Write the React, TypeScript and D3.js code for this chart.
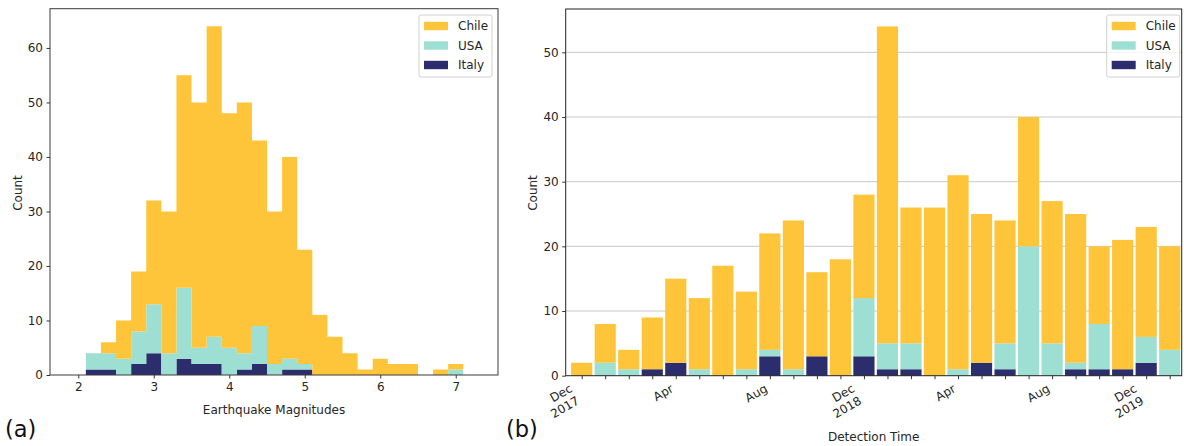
import React, { useEffect, useRef } from 'react';
import * as d3 from 'd3';

// ---- data: (a) magnitude histogram, 0.2 wide bins
const binEdges = [2.1, 2.3, 2.5, 2.7, 2.9, 3.1, 3.3, 3.5, 3.7, 3.9, 4.1, 4.3, 4.5, 4.7, 4.9, 5.1, 5.3, 5.5, 5.7, 5.9, 6.1, 6.3, 6.5, 6.7, 6.9, 7.1];
const histItaly = [1, 1, 0, 2, 4, 0, 3, 2, 2, 0, 1, 2, 0, 1, 1, 0, 0, 0, 0, 0, 0, 0, 0, 0, 0];
const histUSA = [3, 3, 3, 6, 9, 4, 13, 3, 5, 5, 3, 7, 2, 2, 1, 0, 0, 0, 0, 0, 0, 0, 0, 0, 1];
const histChile = [0, 2, 7, 11, 19, 26, 39, 45, 57, 43, 46, 34, 28, 37, 21, 11, 7, 4, 1, 3, 2, 2, 0, 1, 1];
const histXTicks = [2, 3, 4, 5, 6, 7];
const histYTicks = [0, 10, 20, 30, 40, 50, 60];

// ---- data: (b) monthly detections, Dec 2017 .. Jan 2020
const months = [
  'Dec 2017', 'Jan 2018', 'Feb 2018', 'Mar 2018', 'Apr 2018', 'May 2018', 'Jun 2018', 'Jul 2018', 'Aug 2018',
  'Sep 2018', 'Oct 2018', 'Nov 2018', 'Dec 2018', 'Jan 2019', 'Feb 2019', 'Mar 2019', 'Apr 2019', 'May 2019',
  'Jun 2019', 'Jul 2019', 'Aug 2019', 'Sep 2019', 'Oct 2019', 'Nov 2019', 'Dec 2019', 'Jan 2020',
];
const monthItaly = [0, 0, 0, 1, 2, 0, 0, 0, 3, 0, 3, 0, 3, 1, 1, 0, 0, 2, 1, 0, 0, 1, 1, 1, 2, 0];
const monthUSA = [0, 2, 1, 0, 0, 1, 0, 1, 1, 1, 0, 0, 9, 4, 4, 0, 1, 0, 4, 20, 5, 1, 7, 0, 4, 4];
const monthChile = [2, 6, 3, 8, 13, 11, 17, 12, 18, 23, 13, 18, 16, 49, 21, 26, 30, 23, 19, 20, 22, 23, 12, 20, 17, 16];
const monthTickLabels: [number, string[]][] = [
  [0, ['Dec', '2017']],
  [4, ['Apr']],
  [8, ['Aug']],
  [12, ['Dec', '2018']],
  [16, ['Apr']],
  [20, ['Aug']],
  [24, ['Dec', '2019']],
];
const barYTicks = [0, 10, 20, 30, 40, 50];

const countries = ['Italy', 'USA', 'Chile'];
const legendOrder = ['Chile', 'USA', 'Italy'];
const colors: Record<string, string> = { Chile: '#fec53a', USA: '#9edfd4', Italy: '#2c2d6c' };

const FONT = '"DejaVu Sans", sans-serif';
const TEXT = '#262626';
const FS = 12;

// left panel scales
const xa = d3.scaleLinear().domain([1.625, 7.56]).range([50, 498]);
const ya = d3.scaleLinear().domain([0, 67.2]).range([375, 8.7]);
// right panel scales
const xb = d3.scaleLinear().domain([-0.68, 25.51]).range([565.7, 1181.7]);
const yb = d3.scaleLinear().domain([0, 56.7]).range([375.7, 9]);

const histRows = binEdges.slice(0, -1).map((e, i) => ({
  edge: e,
  Italy: histItaly[i],
  USA: histUSA[i],
  Chile: histChile[i],
}));
const monthRows = months.map((m, i) => ({
  idx: i,
  Italy: monthItaly[i],
  USA: monthUSA[i],
  Chile: monthChile[i],
}));

const stacker = d3.stack<any>().keys(countries);
const histStack = stacker(histRows);
const monthStack = stacker(monthRows);

const Legend: React.FC<{ x: number; y: number }> = ({ x, y }) => (
  <g transform={`translate(${x},${y})`}>
    <rect x={0} y={0} width={73} height={62} rx={2} fill="white" fillOpacity={0.8} stroke="#d0d0d0" />
    {legendOrder.map((c, i) => (
      <g key={c} transform={`translate(0,${11 + i * 19.5})`}>
        <rect x={5} y={-4.2} width={24} height={8.4} fill={colors[c]} />
        <text x={39} y={4.4} fontSize={FS} fontFamily={FONT} fill={TEXT}>
          {c}
        </text>
      </g>
    ))}
  </g>
);

const App: React.FC = () => {
  const axARef = useRef<SVGGElement>(null);
  const axBRef = useRef<SVGGElement>(null);

  useEffect(() => {
    if (axARef.current) {
      const g = d3.select(axARef.current);
      g.selectAll('*').remove();
      g.append('g')
        .attr('transform', 'translate(0,375)')
        .call(d3.axisBottom(xa).tickValues(histXTicks).tickSize(3.5).tickPadding(3.5).tickSizeOuter(0).tickFormat(d3.format('d')));
      g.append('g')
        .attr('transform', 'translate(50,0)')
        .call(d3.axisLeft(ya).tickValues(histYTicks).tickSize(3.5).tickPadding(3.5).tickSizeOuter(0));
      g.selectAll('.domain').remove();
      g.selectAll('text').attr('font-size', FS).attr('font-family', FONT).attr('fill', TEXT);
      g.selectAll('line').attr('stroke', '#333');
    }
    if (axBRef.current) {
      const g = d3.select(axBRef.current);
      g.selectAll('*').remove();
      g.append('g')
        .attr('transform', 'translate(0,375.7)')
        .call(d3.axisBottom(xb).tickValues(d3.range(months.length)).tickSize(3.5).tickSizeOuter(0).tickFormat(() => ''));
      g.append('g')
        .attr('transform', 'translate(565.7,0)')
        .call(d3.axisLeft(yb).tickValues(barYTicks).tickSize(3.5).tickPadding(3.5).tickSizeOuter(0));
      g.selectAll('.domain').remove();
      g.selectAll('text').attr('font-size', FS).attr('font-family', FONT).attr('fill', TEXT);
      g.selectAll('line').attr('stroke', '#333');
    }
  }, []);

  const stepArea = d3
    .area<any>()
    .curve(d3.curveStepAfter)
    .x((d) => xa(d.edge))
    .y0((d) => ya(d.y0))
    .y1((d) => ya(d.y1));

  const bw = 0.45;

  return (
    <svg width={1184} height={446} style={{ display: 'block', position: 'absolute', left: 0, top: 0 }}>
      <rect width={1184} height={446} fill="white" />

      {/* (a) histogram */}
      {histStack.map((layer) => {
        const pts = layer.map((s, i) => ({ edge: binEdges[i], y0: s[0], y1: s[1] }));
        const last = pts[pts.length - 1];
        pts.push({ edge: binEdges[binEdges.length - 1], y0: last.y0, y1: last.y1 });
        return <path key={layer.key} d={stepArea(pts) || ''} fill={colors[layer.key]} />;
      })}
      <rect x={50} y={8.7} width={448} height={366.3} fill="none" stroke="#3a3a3a" strokeWidth={1} />
      <g ref={axARef} />
      <Legend x={419} y={15} />
      <text transform="translate(21.5,193) rotate(-90)" textAnchor="middle" fontSize={FS} fontFamily={FONT} fill={TEXT}>
        Count
      </text>
      <text x={274} y={414} textAnchor="middle" fontSize={FS} fontFamily={FONT} fill={TEXT}>
        Earthquake Magnitudes
      </text>
      <text x={5} y={437} fontSize={22.5} fontFamily={FONT} fill="#111">
        (a)
      </text>

      {/* (b) monthly stacked bars */}
      {barYTicks.filter((t) => t > 0).map((t) => (
        <line key={t} x1={565.7} x2={1181.7} y1={yb(t)} y2={yb(t)} stroke="#c9c9c9" strokeWidth={1} />
      ))}
      {monthStack.map((layer) =>
        layer.map((s, i) =>
          s[1] > s[0] ? (
            <rect
              key={`${layer.key}-${i}`}
              x={xb(i - bw)}
              width={xb(i + bw) - xb(i - bw)}
              y={yb(s[1])}
              height={yb(s[0]) - yb(s[1])}
              fill={colors[layer.key]}
            />
          ) : null
        )
      )}
      <rect x={565.7} y={9} width={616} height={366.7} fill="none" stroke="#222" strokeWidth={1} />
      <g ref={axBRef} />
      {monthTickLabels.map(([i, lines]) => (
        <text
          key={i}
          transform={`translate(${xb(i) - (lines.length > 1 ? 8.5 : 1.5)},391) rotate(-30)`}
          textAnchor="end"
          fontSize={FS}
          fontFamily={FONT}
          fill={TEXT}
        >
          {lines.map((l, k) => (
            <tspan key={k} x={0} dy={k === 0 ? 0 : 14}>
              {l}
            </tspan>
          ))}
        </text>
      ))}
      <Legend x={1106.7} y={15} />
      <text transform="translate(536.5,193) rotate(-90)" textAnchor="middle" fontSize={FS} fontFamily={FONT} fill={TEXT}>
        Count
      </text>
      <text x={873.7} y={441} textAnchor="middle" fontSize={FS} fontFamily={FONT} fill={TEXT}>
        Detection Time
      </text>
      <text x={506} y={437} fontSize={22.5} fontFamily={FONT} fill="#111">
        (b)
      </text>
    </svg>
  );
};

export default App;
